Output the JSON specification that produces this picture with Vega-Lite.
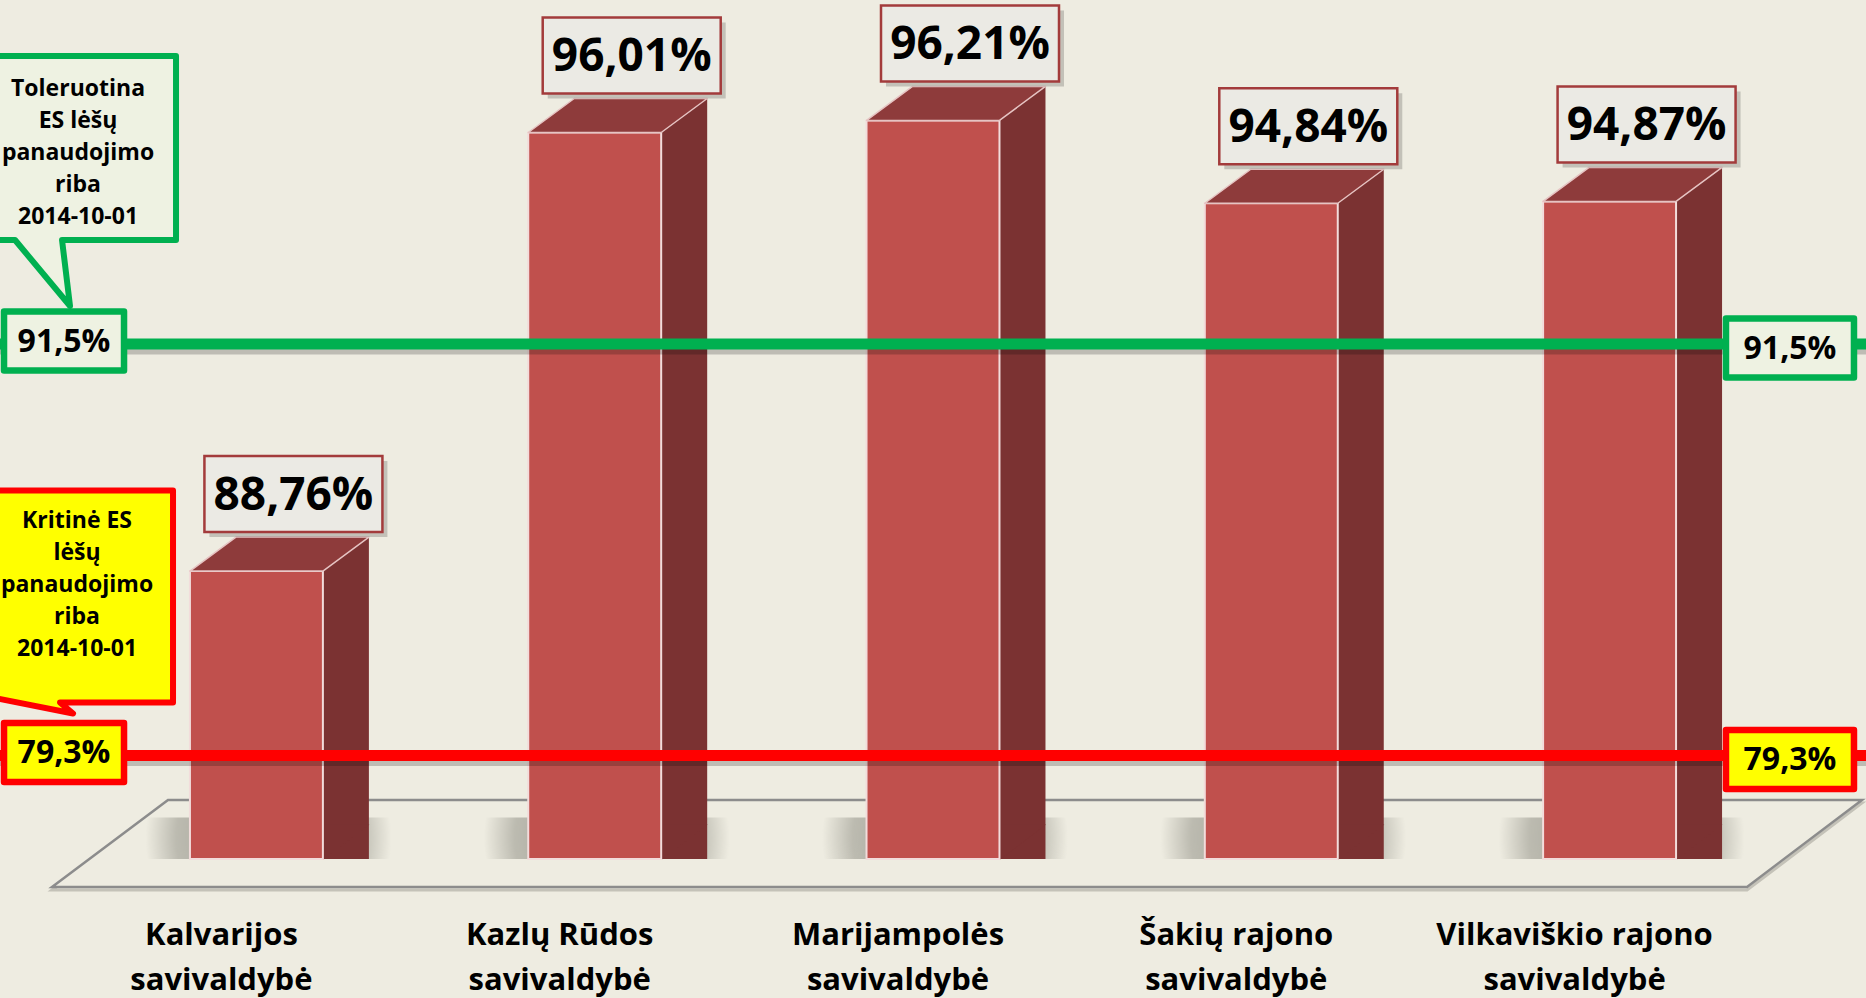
{
  "$schema": "https://vega.github.io/schema/vega-lite/v6.json",
  "width": 1866,
  "height": 859,
  "autosize": {"type": "none"},
  "padding": {"left": 0, "top": 0, "right": 0, "bottom": 139},
  "background": "#EEECE1",
  "config": {
    "view": {"stroke": null},
    "axisX": {
      "domain": false,
      "ticks": false,
      "grid": false,
      "labelAngle": 0,
      "labelFont": "Open Sans",
      "labelFontWeight": "bold",
      "labelFontSize": 31,
      "labelColor": "#000000",
      "labelBaseline": "alphabetic",
      "labelPadding": 85,
      "labelLineHeight": 45,
      "labelOffset": -35,
      "labelLimit": 500,
      "labelOverlap": false,
      "labelExpr": "[substring(datum.label, 0, lastindexof(datum.label, ' ')), substring(datum.label, lastindexof(datum.label, ' ') + 1)]"
    }
  },
  "datasets": {
    "juostos": [
      {"savivaldybe": "Kalvarijos savivaldybė", "reiksme": 88.76, "etikete": "88,76%"},
      {"savivaldybe": "Kazlų Rūdos savivaldybė", "reiksme": 96.01, "etikete": "96,01%"},
      {"savivaldybe": "Marijampolės savivaldybė", "reiksme": 96.21, "etikete": "96,21%"},
      {"savivaldybe": "Šakių rajono savivaldybė", "reiksme": 94.84, "etikete": "94,84%"},
      {"savivaldybe": "Vilkaviškio rajono savivaldybė", "reiksme": 94.87, "etikete": "94,87%"}
    ],
    "ribos": [
      {"riba": "Toleruotina", "reiksme": 91.5, "etikete": "91,5%", "aprasas": ["Toleruotina", "ES lėšų", "panaudojimo", "riba", "2014-10-01"]},
      {"riba": "Kritinė", "reiksme": 79.3, "etikete": "79,3%", "aprasas": ["Kritinė ES", "lėšų", "panaudojimo", "riba", "2014-10-01"]}
    ]
  },
  "layer": [
    {
      "data": {"name": "juostos"},
      "layer": [
        {
          "transform": [{"filter": "datum.savivaldybe == 'Marijampolės savivaldybė'"}],
          "mark": {"type": "point", "filled": true, "opacity": 1, "size": 40000, "fill": "#EEECE1", "stroke": "#C4C2B8", "strokeWidth": 3, "yOffset": 3, "shape": "M-8.81,0.28L8.14,0.28L9.29,-0.59L-7.65,-0.59Z"},
          "encoding": {
            "x": {"field": "savivaldybe", "type": "nominal", "title": null, "scale": {"domain": ["Kalvarijos savivaldybė", "Kazlų Rūdos savivaldybė", "Marijampolės savivaldybė", "Šakių rajono savivaldybė", "Vilkaviškio rajono savivaldybė"], "paddingInner": 0.607, "paddingOuter": 0.5615}},
            "y": {"datum": 84, "type": "quantitative", "scale": {"domain": [84, 98.2], "zero": false, "nice": false}, "axis": null}
          }
        },
        {
          "transform": [{"filter": "datum.savivaldybe == 'Marijampolės savivaldybė'"}],
          "mark": {"type": "point", "filled": true, "opacity": 1, "size": 40000, "fill": "#EEECE1", "stroke": "#8C8C8C", "strokeWidth": 2.5, "shape": "M-8.81,0.28L8.14,0.28L9.29,-0.59L-7.65,-0.59Z"},
          "encoding": {
            "x": {"field": "savivaldybe", "type": "nominal", "title": null, "scale": {"domain": ["Kalvarijos savivaldybė", "Kazlų Rūdos savivaldybė", "Marijampolės savivaldybė", "Šakių rajono savivaldybė", "Vilkaviškio rajono savivaldybė"], "paddingInner": 0.607, "paddingOuter": 0.5615}},
            "y": {"datum": 84, "type": "quantitative", "scale": {"domain": [84, 98.2], "zero": false, "nice": false}, "axis": null}
          }
        },
        {
          "mark": {"type": "bar", "width": {"band": 1.85}, "xOffset": 12, "yOffset": 10, "color": {"gradient": "radial", "x1": 0.5, "y1": 0.5, "r1": 0, "x2": 0.5, "y2": 0.5, "r2": 0.5, "stops": [{"offset": 0, "color": "rgba(95,95,85,0.6)"}, {"offset": 0.75, "color": "rgba(95,95,85,0.35)"}, {"offset": 1, "color": "rgba(95,95,85,0)"}]}},
          "encoding": {
            "x": {"field": "savivaldybe", "type": "nominal", "title": null, "scale": {"domain": ["Kalvarijos savivaldybė", "Kazlų Rūdos savivaldybė", "Marijampolės savivaldybė", "Šakių rajono savivaldybė", "Vilkaviškio rajono savivaldybė"], "paddingInner": 0.607, "paddingOuter": 0.5615}},
            "y": {"datum": 84.85, "type": "quantitative", "scale": {"domain": [84, 98.2], "zero": false, "nice": false}, "axis": null},
            "y2": {"datum": 84}
          }
        },
        {
          "mark": {"type": "bar", "color": "#7B3232", "xOffset": 46, "yOffset": -34},
          "encoding": {
            "x": {"field": "savivaldybe", "type": "nominal", "title": null, "scale": {"domain": ["Kalvarijos savivaldybė", "Kazlų Rūdos savivaldybė", "Marijampolės savivaldybė", "Šakių rajono savivaldybė", "Vilkaviškio rajono savivaldybė"], "paddingInner": 0.607, "paddingOuter": 0.5615}},
            "y": {"field": "reiksme", "type": "quantitative", "scale": {"domain": [84, 98.2], "zero": false, "nice": false}, "axis": null},
            "y2": {"datum": 84}
          }
        },
        {
          "mark": {"type": "point", "filled": true, "opacity": 1, "size": 40000, "fill": "#7B3232", "strokeWidth": 0, "shape": "M0.665,0.01L0.665,-0.345L1.13,-0.345Z"},
          "encoding": {
            "x": {"field": "savivaldybe", "type": "nominal", "title": null, "scale": {"domain": ["Kalvarijos savivaldybė", "Kazlų Rūdos savivaldybė", "Marijampolės savivaldybė", "Šakių rajono savivaldybė", "Vilkaviškio rajono savivaldybė"], "paddingInner": 0.607, "paddingOuter": 0.5615}},
            "y": {"datum": 84, "type": "quantitative", "scale": {"domain": [84, 98.2], "zero": false, "nice": false}, "axis": null}
          }
        },
        {
          "mark": {"type": "bar", "color": "#C0504D", "stroke": "#F2DCDB", "strokeWidth": 2},
          "encoding": {
            "x": {"field": "savivaldybe", "type": "nominal", "title": null, "scale": {"domain": ["Kalvarijos savivaldybė", "Kazlų Rūdos savivaldybė", "Marijampolės savivaldybė", "Šakių rajono savivaldybė", "Vilkaviškio rajono savivaldybė"], "paddingInner": 0.607, "paddingOuter": 0.5615}},
            "y": {"field": "reiksme", "type": "quantitative", "scale": {"domain": [84, 98.2], "zero": false, "nice": false}, "axis": null},
            "y2": {"datum": 84}
          }
        },
        {
          "mark": {"type": "point", "filled": true, "opacity": 1, "size": 40000, "fill": "#8E3B3B", "stroke": "#E6C4C3", "strokeWidth": 1.5, "strokeJoin": "round", "shape": "M-0.665,0L0.665,0L1.125,-0.34L-0.205,-0.34Z"},
          "encoding": {
            "x": {"field": "savivaldybe", "type": "nominal", "title": null, "scale": {"domain": ["Kalvarijos savivaldybė", "Kazlų Rūdos savivaldybė", "Marijampolės savivaldybė", "Šakių rajono savivaldybė", "Vilkaviškio rajono savivaldybė"], "paddingInner": 0.607, "paddingOuter": 0.5615}},
            "y": {"field": "reiksme", "type": "quantitative", "scale": {"domain": [84, 98.2], "zero": false, "nice": false}, "axis": null}
          }
        }
      ]
    },
    {
      "data": {"name": "ribos"},
      "layer": [
        {
          "mark": {"type": "rule", "strokeWidth": 11, "color": "#000000", "opacity": 0.2, "yOffset": 5},
          "encoding": {
            "y": {"field": "reiksme", "type": "quantitative", "scale": {"domain": [76.23, 101.7], "zero": false, "nice": false}, "axis": null}
          }
        },
        {
          "mark": {"type": "rule", "strokeWidth": 11},
          "encoding": {
            "y": {"field": "reiksme", "type": "quantitative", "scale": {"domain": [76.23, 101.7], "zero": false, "nice": false}, "axis": null},
            "stroke": {"field": "riba", "type": "nominal", "scale": {"domain": ["Toleruotina", "Kritinė"], "range": ["#00B050", "#FF0000"]}, "legend": null}
          }
        },
        {
          "transform": [{"filter": "datum.riba == 'Toleruotina'"}],
          "mark": {"type": "point", "filled": true, "opacity": 1, "size": 40000, "strokeWidth": 6, "strokeJoin": "round", "xOffset": -192.4, "yOffset": -3, "shape": "M-0.72,-2.85H1.12V-1.01H-0.02L0.06,-0.35L-0.49,-1.01H-0.72Z"},
          "encoding": {
            "x": {"datum": "Kalvarijos savivaldybė", "type": "nominal", "title": null, "scale": {"domain": ["Kalvarijos savivaldybė", "Kazlų Rūdos savivaldybė", "Marijampolės savivaldybė", "Šakių rajono savivaldybė", "Vilkaviškio rajono savivaldybė"], "paddingInner": 0.607, "paddingOuter": 0.5615}},
            "y": {"field": "reiksme", "type": "quantitative", "scale": {"domain": [76.23, 101.7], "zero": false, "nice": false}, "axis": null},
            "stroke": {"field": "riba", "type": "nominal", "scale": {"domain": ["Toleruotina", "Kritinė"], "range": ["#00B050", "#FF0000"]}, "legend": null},
            "fill": {"field": "riba", "type": "nominal", "scale": {"domain": ["Toleruotina", "Kritinė"], "range": ["#EEF2E2", "#FFFF00"]}, "legend": null}
          }
        },
        {
          "transform": [{"filter": "datum.riba == 'Kritinė'"}],
          "mark": {"type": "point", "filled": true, "opacity": 1, "size": 40000, "strokeWidth": 6, "strokeJoin": "round", "xOffset": -192.4, "yOffset": -3, "shape": "M-0.72,-2.62H1.09V-0.50H-0.04L0.09,-0.39L-0.72,-0.55Z"},
          "encoding": {
            "x": {"datum": "Kalvarijos savivaldybė", "type": "nominal", "title": null, "scale": {"domain": ["Kalvarijos savivaldybė", "Kazlų Rūdos savivaldybė", "Marijampolės savivaldybė", "Šakių rajono savivaldybė", "Vilkaviškio rajono savivaldybė"], "paddingInner": 0.607, "paddingOuter": 0.5615}},
            "y": {"field": "reiksme", "type": "quantitative", "scale": {"domain": [76.23, 101.7], "zero": false, "nice": false}, "axis": null},
            "stroke": {"field": "riba", "type": "nominal", "scale": {"domain": ["Toleruotina", "Kritinė"], "range": ["#00B050", "#FF0000"]}, "legend": null},
            "fill": {"field": "riba", "type": "nominal", "scale": {"domain": ["Toleruotina", "Kritinė"], "range": ["#EEF2E2", "#FFFF00"]}, "legend": null}
          }
        },
        {
          "transform": [{"filter": "datum.riba == 'Toleruotina'"}],
          "mark": {"type": "text", "font": "Open Sans", "fontWeight": "bold", "fontSize": 23, "lineHeight": 32, "color": "#000000", "align": "center", "baseline": "middle", "xOffset": -178.4, "yOffset": -255},
          "encoding": {
            "x": {"datum": "Kalvarijos savivaldybė", "type": "nominal", "title": null, "scale": {"domain": ["Kalvarijos savivaldybė", "Kazlų Rūdos savivaldybė", "Marijampolės savivaldybė", "Šakių rajono savivaldybė", "Vilkaviškio rajono savivaldybė"], "paddingInner": 0.607, "paddingOuter": 0.5615}},
            "y": {"field": "reiksme", "type": "quantitative", "scale": {"domain": [76.23, 101.7], "zero": false, "nice": false}, "axis": null},
            "text": {"field": "aprasas", "type": "nominal"}
          }
        },
        {
          "transform": [{"filter": "datum.riba == 'Kritinė'"}],
          "mark": {"type": "text", "font": "Open Sans", "fontWeight": "bold", "fontSize": 23, "lineHeight": 32, "color": "#000000", "align": "center", "baseline": "middle", "xOffset": -179.4, "yOffset": -234.5},
          "encoding": {
            "x": {"datum": "Kalvarijos savivaldybė", "type": "nominal", "title": null, "scale": {"domain": ["Kalvarijos savivaldybė", "Kazlų Rūdos savivaldybė", "Marijampolės savivaldybė", "Šakių rajono savivaldybė", "Vilkaviškio rajono savivaldybė"], "paddingInner": 0.607, "paddingOuter": 0.5615}},
            "y": {"field": "reiksme", "type": "quantitative", "scale": {"domain": [76.23, 101.7], "zero": false, "nice": false}, "axis": null},
            "text": {"field": "aprasas", "type": "nominal"}
          }
        },
        {
          "mark": {"type": "point", "filled": true, "opacity": 1, "size": 40000, "strokeWidth": 6.5, "strokeJoin": "round", "xOffset": -192.4, "yOffset": -3, "shape": "M-0.6,-0.295H0.6V0.295H-0.6Z"},
          "encoding": {
            "x": {"datum": "Kalvarijos savivaldybė", "type": "nominal", "title": null, "scale": {"domain": ["Kalvarijos savivaldybė", "Kazlų Rūdos savivaldybė", "Marijampolės savivaldybė", "Šakių rajono savivaldybė", "Vilkaviškio rajono savivaldybė"], "paddingInner": 0.607, "paddingOuter": 0.5615}},
            "y": {"field": "reiksme", "type": "quantitative", "scale": {"domain": [76.23, 101.7], "zero": false, "nice": false}, "axis": null},
            "stroke": {"field": "riba", "type": "nominal", "scale": {"domain": ["Toleruotina", "Kritinė"], "range": ["#00B050", "#FF0000"]}, "legend": null},
            "fill": {"field": "riba", "type": "nominal", "scale": {"domain": ["Toleruotina", "Kritinė"], "range": ["#EEF2E2", "#FFFF00"]}, "legend": null}
          }
        },
        {
          "mark": {"type": "text", "font": "Open Sans", "fontWeight": "bold", "fontSize": 32, "color": "#000000", "align": "center", "baseline": "middle", "xOffset": -192.4, "yOffset": -2},
          "encoding": {
            "x": {"datum": "Kalvarijos savivaldybė", "type": "nominal", "title": null, "scale": {"domain": ["Kalvarijos savivaldybė", "Kazlų Rūdos savivaldybė", "Marijampolės savivaldybė", "Šakių rajono savivaldybė", "Vilkaviškio rajono savivaldybė"], "paddingInner": 0.607, "paddingOuter": 0.5615}},
            "y": {"field": "reiksme", "type": "quantitative", "scale": {"domain": [76.23, 101.7], "zero": false, "nice": false}, "axis": null},
            "text": {"field": "etikete", "type": "nominal"}
          }
        },
        {
          "mark": {"type": "point", "filled": true, "opacity": 1, "size": 40000, "strokeWidth": 6.5, "strokeJoin": "round", "xOffset": 180.4, "yOffset": 4, "shape": "M-0.64,-0.295H0.64V0.295H-0.64Z"},
          "encoding": {
            "x": {"datum": "Vilkaviškio rajono savivaldybė", "type": "nominal", "title": null, "scale": {"domain": ["Kalvarijos savivaldybė", "Kazlų Rūdos savivaldybė", "Marijampolės savivaldybė", "Šakių rajono savivaldybė", "Vilkaviškio rajono savivaldybė"], "paddingInner": 0.607, "paddingOuter": 0.5615}},
            "y": {"field": "reiksme", "type": "quantitative", "scale": {"domain": [76.23, 101.7], "zero": false, "nice": false}, "axis": null},
            "stroke": {"field": "riba", "type": "nominal", "scale": {"domain": ["Toleruotina", "Kritinė"], "range": ["#00B050", "#FF0000"]}, "legend": null},
            "fill": {"field": "riba", "type": "nominal", "scale": {"domain": ["Toleruotina", "Kritinė"], "range": ["#EEF2E2", "#FFFF00"]}, "legend": null}
          }
        },
        {
          "mark": {"type": "text", "font": "Open Sans", "fontWeight": "bold", "fontSize": 32, "color": "#000000", "align": "center", "baseline": "middle", "xOffset": 180.4, "yOffset": 5},
          "encoding": {
            "x": {"datum": "Vilkaviškio rajono savivaldybė", "type": "nominal", "title": null, "scale": {"domain": ["Kalvarijos savivaldybė", "Kazlų Rūdos savivaldybė", "Marijampolės savivaldybė", "Šakių rajono savivaldybė", "Vilkaviškio rajono savivaldybė"], "paddingInner": 0.607, "paddingOuter": 0.5615}},
            "y": {"field": "reiksme", "type": "quantitative", "scale": {"domain": [76.23, 101.7], "zero": false, "nice": false}, "axis": null},
            "text": {"field": "etikete", "type": "nominal"}
          }
        }
      ]
    },
    {
      "data": {"name": "juostos"},
      "layer": [
        {
          "mark": {"type": "point", "filled": true, "opacity": 0.18, "size": 40000, "fill": "#000000", "strokeWidth": 0, "xOffset": 42, "yOffset": -72, "shape": "M-0.89,-0.38H0.89V0.38H-0.89Z"},
          "encoding": {
            "x": {"field": "savivaldybe", "type": "nominal", "title": null, "scale": {"domain": ["Kalvarijos savivaldybė", "Kazlų Rūdos savivaldybė", "Marijampolės savivaldybė", "Šakių rajono savivaldybė", "Vilkaviškio rajono savivaldybė"], "paddingInner": 0.607, "paddingOuter": 0.5615}},
            "y": {"field": "reiksme", "type": "quantitative", "scale": {"domain": [84, 98.2], "zero": false, "nice": false}, "axis": null}
          }
        },
        {
          "mark": {"type": "point", "filled": true, "opacity": 1, "size": 40000, "fill": "#EBEAE4", "stroke": "#A33B3B", "strokeWidth": 2.5, "xOffset": 37, "yOffset": -77, "shape": "M-0.89,-0.38H0.89V0.38H-0.89Z"},
          "encoding": {
            "x": {"field": "savivaldybe", "type": "nominal", "title": null, "scale": {"domain": ["Kalvarijos savivaldybė", "Kazlų Rūdos savivaldybė", "Marijampolės savivaldybė", "Šakių rajono savivaldybė", "Vilkaviškio rajono savivaldybė"], "paddingInner": 0.607, "paddingOuter": 0.5615}},
            "y": {"field": "reiksme", "type": "quantitative", "scale": {"domain": [84, 98.2], "zero": false, "nice": false}, "axis": null}
          }
        },
        {
          "mark": {"type": "text", "font": "Open Sans", "fontWeight": "bold", "fontSize": 46, "color": "#000000", "align": "center", "baseline": "middle", "xOffset": 37, "yOffset": -75},
          "encoding": {
            "x": {"field": "savivaldybe", "type": "nominal", "title": null, "scale": {"domain": ["Kalvarijos savivaldybė", "Kazlų Rūdos savivaldybė", "Marijampolės savivaldybė", "Šakių rajono savivaldybė", "Vilkaviškio rajono savivaldybė"], "paddingInner": 0.607, "paddingOuter": 0.5615}},
            "y": {"field": "reiksme", "type": "quantitative", "scale": {"domain": [84, 98.2], "zero": false, "nice": false}, "axis": null},
            "text": {"field": "etikete", "type": "nominal"}
          }
        }
      ]
    }
  ],
  "resolve": {"scale": {"y": "independent"}}
}
